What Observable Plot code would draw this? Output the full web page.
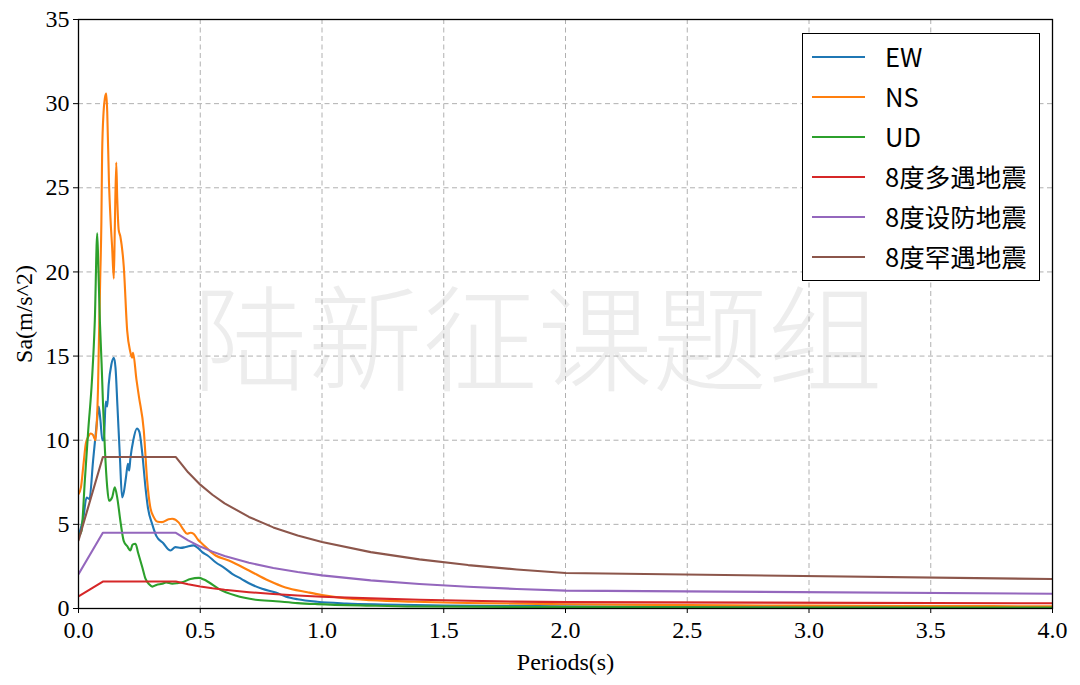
<!DOCTYPE html>
<html><head><meta charset="utf-8">
<script src="https://cdn.jsdelivr.net/npm/d3@7"></script>
<script src="https://cdn.jsdelivr.net/npm/@observablehq/plot@0.6"></script>
<style>
body{margin:0;background:#fff;}
#wrap{position:relative;width:1080px;height:685px;overflow:hidden;}
#legend{position:absolute;left:802px;top:33px;width:238px;height:248px;border:1.5px solid #000;background:#fff;box-sizing:border-box;font-family:"Noto Sans CJK SC","Noto Sans",sans-serif;font-size:25.5px;color:#000;}
.row{position:absolute;left:0;height:40px;width:232px;}
.row svg{position:absolute;left:8px;top:19px;}
.row span{position:absolute;left:82px;top:0;line-height:40px;white-space:nowrap;}
</style>
</head><body>
<div id="wrap"><div id="chart"></div><div id="legend"></div></div>
<script>
// ---- Data ----
const seriesNames = ["EW", "NS", "UD", "8度多遇地震", "8度设防地震", "8度罕遇地震"];
const seriesColors = ["#1f77b4", "#ff7f0e", "#2ca02c", "#d62728", "#9467bd", "#8c564b"];
const xTicks = [0, 0.5, 1.0, 1.5, 2.0, 2.5, 3.0, 3.5, 4.0];
const yTicks = [0, 5, 10, 15, 20, 25, 30, 35];

const ewT  = [0, 0.01, 0.02, 0.033, 0.045, 0.06, 0.075, 0.083, 0.09, 0.098, 0.104, 0.112, 0.118, 0.124, 0.135, 0.145, 0.152, 0.16, 0.17, 0.179, 0.186, 0.195, 0.203, 0.208, 0.213, 0.225, 0.24, 0.25, 0.262, 0.275, 0.285, 0.303, 0.32, 0.35, 0.37, 0.378, 0.398, 0.42, 0.44, 0.473, 0.49, 0.508, 0.53, 0.563, 0.6, 0.631, 0.67, 0.70, 0.754, 0.81, 0.85, 0.9, 0.98, 1.1, 1.25, 1.5, 2.0, 2.5, 3.0, 3.5, 4.0];
const ewSa = [4.3, 4.8, 5.4, 6.6, 6.5, 8.8, 11.0, 12.0, 11.2, 10.0, 10.0, 12.3, 12.0, 13.3, 14.5, 14.9, 14.3, 12.0, 9.0, 6.6, 6.9, 7.8, 8.6, 8.2, 8.9, 10.0, 10.7, 10.5, 9.2, 7.2, 6.0, 5.0, 4.3, 3.85, 3.5, 3.45, 3.65, 3.6, 3.65, 3.75, 3.6, 3.35, 3.15, 2.75, 2.4, 2.06, 1.75, 1.5, 1.17, 0.95, 0.72, 0.55, 0.40, 0.30, 0.24, 0.18, 0.13, 0.11, 0.10, 0.09, 0.08];

const nsT  = [0, 0.01, 0.02, 0.03, 0.04, 0.05, 0.06, 0.07, 0.075, 0.08, 0.084, 0.089, 0.094, 0.097, 0.103, 0.108, 0.114, 0.118, 0.125, 0.132, 0.138, 0.145, 0.149, 0.155, 0.159, 0.165, 0.172, 0.186, 0.2, 0.212, 0.22, 0.224, 0.238, 0.248, 0.268, 0.282, 0.295, 0.31, 0.325, 0.343, 0.37, 0.385, 0.412, 0.43, 0.446, 0.46, 0.473, 0.49, 0.508, 0.563, 0.617, 0.70, 0.78, 0.85, 0.94, 1.0, 1.1, 1.2, 1.38, 1.6, 2.0, 2.5, 3.0, 3.5, 4.0];
const nsSa = [6.8, 7.2, 8.5, 9.8, 10.2, 10.4, 10.3, 10.0, 11.0, 13.0, 16.0, 19.5, 23.0, 27.0, 29.5, 30.3, 30.6, 29.5, 25.4, 23.0, 21.5, 19.6, 22.5, 26.5, 24.4, 22.5, 22.1, 20.3, 16.5, 15.3, 14.9, 15.2, 13.6, 12.6, 10.6, 7.6, 6.0, 5.4, 5.15, 5.13, 5.3, 5.33, 5.1, 4.7, 4.44, 4.5, 4.44, 4.1, 3.85, 3.15, 2.85, 2.26, 1.66, 1.25, 0.97, 0.8, 0.6, 0.5, 0.4, 0.33, 0.25, 0.2, 0.17, 0.15, 0.13];

const udT  = [0, 0.012, 0.026, 0.04, 0.055, 0.067, 0.077, 0.082, 0.088, 0.095, 0.101, 0.108, 0.118, 0.125, 0.138, 0.149, 0.16, 0.172, 0.186, 0.2, 0.213, 0.222, 0.234, 0.245, 0.262, 0.275, 0.29, 0.303, 0.32, 0.343, 0.36, 0.385, 0.405, 0.426, 0.46, 0.494, 0.515, 0.535, 0.576, 0.645, 0.727, 0.81, 0.9, 0.98, 1.2, 1.38, 2.0, 3.0, 4.0];
const udSa = [4.3, 4.6, 7.6, 10.6, 13.5, 17.1, 22.3, 20.0, 17.0, 14.5, 12.0, 9.6, 7.2, 6.4, 6.6, 7.2, 6.5, 5.2, 4.0, 3.7, 3.45, 3.8, 3.85, 3.3, 2.45, 1.77, 1.45, 1.3, 1.4, 1.47, 1.55, 1.47, 1.5, 1.56, 1.75, 1.82, 1.72, 1.56, 1.17, 0.77, 0.52, 0.43, 0.32, 0.26, 0.17, 0.12, 0.08, 0.06, 0.05];

const designT    = [0, 0.1, 0.4, 0.45, 0.5, 0.55, 0.6, 0.7, 0.8, 0.9, 1.0, 1.2, 1.4, 1.6, 1.8, 2.0, 4.0];
const frequentSa = [0.72, 1.6, 1.6, 1.44, 1.31, 1.20, 1.11, 0.97, 0.86, 0.77, 0.70, 0.60, 0.52, 0.46, 0.41, 0.38, 0.31];
const fortifySa  = [2.03, 4.5, 4.5, 4.05, 3.68, 3.38, 3.12, 2.72, 2.41, 2.17, 1.97, 1.67, 1.46, 1.29, 1.16, 1.06, 0.88];
const rareSa     = [4.05, 9.0, 9.0, 8.09, 7.36, 6.76, 6.25, 5.44, 4.82, 4.34, 3.95, 3.35, 2.92, 2.58, 2.32, 2.11, 1.75];

// ---- Build tables ----
const toRows = (T, S, name) => T.map((t, i) => ({T: t, Sa: S[i], name}));
const records = [
  toRows(ewT, ewSa, seriesNames[0]),
  toRows(nsT, nsSa, seriesNames[1]),
  toRows(udT, udSa, seriesNames[2])
];
const design = [
  toRows(designT, frequentSa, seriesNames[3]),
  toRows(designT, fortifySa, seriesNames[4]),
  toRows(designT, rareSa, seriesNames[5])
];

const serif = '"Liberation Serif","Times New Roman",serif';
const gridStyle = {stroke: "#b0b0b0", strokeOpacity: 1, strokeWidth: 1, strokeDasharray: "5,3.5"};

const chart = Plot.plot({
  width: 1080, height: 685,
  marginLeft: 78, marginRight: 28, marginTop: 19, marginBottom: 77,
  style: {fontFamily: serif, fontSize: "24px", background: "white", color: "black"},
  x: {domain: [0, 4]},
  y: {domain: [0, 35]},
  marks: [
    Plot.text(["陆新征课题组"], {frameAnchor: "middle", dx: -28, dy: 31, fontSize: 115, fill: "#ededed", fontFamily: '"Noto Sans CJK SC"', fontWeight: 300}),
    Plot.gridX(xTicks, gridStyle),
    Plot.gridY(yTicks, gridStyle),
    ...records.map((rows, i) => Plot.line(rows, {x: "T", y: "Sa", stroke: seriesColors[i], strokeWidth: 2.1, curve: "monotone-x", clip: true})),
    ...design.map((rows, i) => Plot.line(rows, {x: "T", y: "Sa", stroke: seriesColors[i + 3], strokeWidth: 2.1, clip: true})),
    Plot.axisX(xTicks, {tickFormat: d => d.toFixed(1), tickSize: 5, tickPadding: 7, fontSize: 24, label: "Periods(s)", labelAnchor: "center", labelArrow: "none", labelOffset: 61}),
    Plot.axisY(yTicks, {tickSize: 5, tickPadding: 4, fontSize: 24, label: "Sa(m/s^2)", labelAnchor: "center", labelArrow: "none", labelOffset: 64}),
    Plot.frame({stroke: "black", strokeWidth: 1.3})
  ]
});
document.getElementById("chart").appendChild(chart);

// ---- Legend (inside plot, upper right) ----
const legend = document.getElementById("legend");
seriesNames.forEach((name, i) => {
  const row = document.createElement("div");
  row.className = "row";
  row.style.top = (2 + i * 40) + "px";
  row.innerHTML = `<svg width="56" height="4"><line x1="1" x2="54" y1="2" y2="2" stroke="${seriesColors[i]}" stroke-width="2.2"/></svg><span>${name}</span>`;
  legend.appendChild(row);
});
</script>
</body></html>
